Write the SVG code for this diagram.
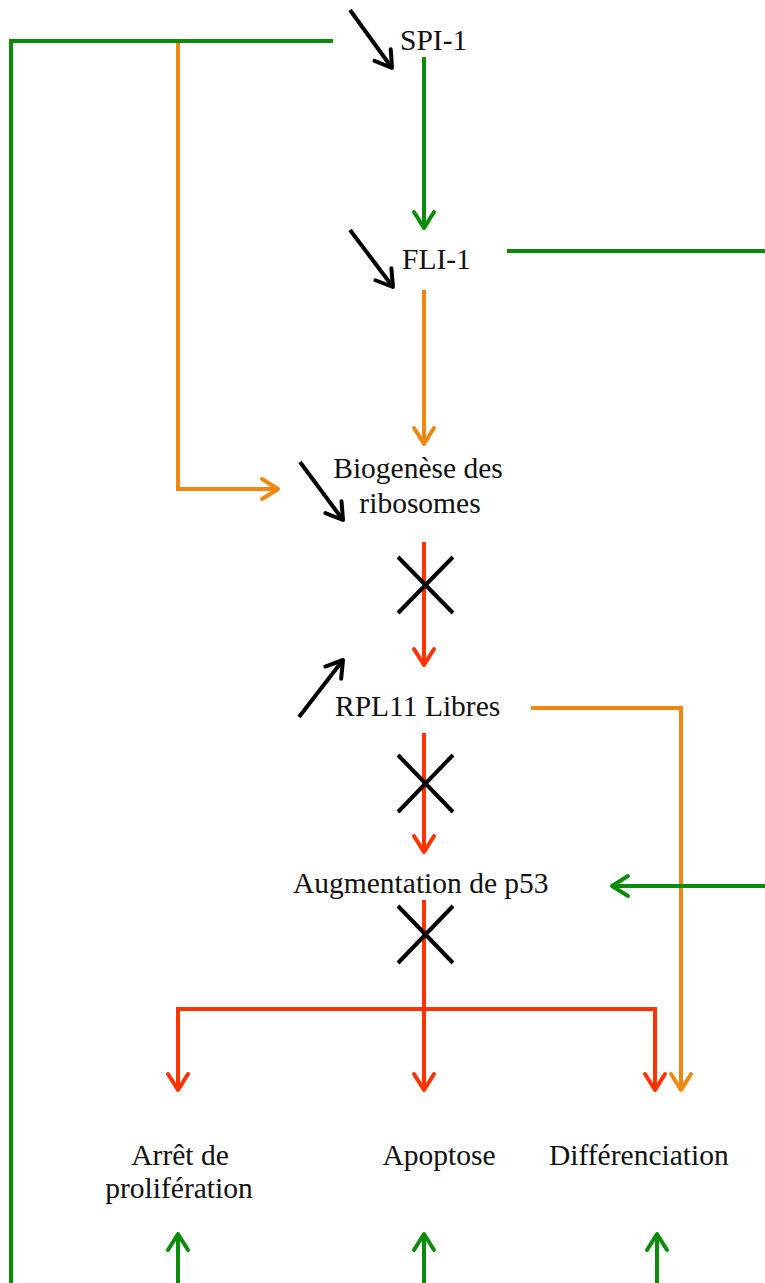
<svg xmlns="http://www.w3.org/2000/svg" width="765" height="1283" viewBox="0 0 765 1283">
<style>
.t{font-family:"Liberation Serif","Times New Roman",serif;font-size:29.5px;fill:#111}
.c{fill:none;stroke-width:4;stroke-linejoin:miter}
.g{stroke:#0a8c0a}.o{stroke:#ee8811}.r{stroke:#ff3300}.k{stroke:#000}
</style>
<defs>
<marker id="ag" viewBox="-20 -14 26 28" markerWidth="26" markerHeight="28" refX="0" refY="0" orient="auto" markerUnits="userSpaceOnUse" overflow="visible"><path d="M-16,-10 L0,0 L-16,10" fill="none" stroke="#0a8c0a" stroke-width="4" stroke-linecap="round" stroke-linejoin="round"/></marker>
<marker id="ao" viewBox="-20 -14 26 28" markerWidth="26" markerHeight="28" refX="0" refY="0" orient="auto" markerUnits="userSpaceOnUse" overflow="visible"><path d="M-16,-10 L0,0 L-16,10" fill="none" stroke="#ee8811" stroke-width="4" stroke-linecap="round" stroke-linejoin="round"/></marker>
<marker id="ar" viewBox="-20 -14 26 28" markerWidth="26" markerHeight="28" refX="0" refY="0" orient="auto" markerUnits="userSpaceOnUse" overflow="visible"><path d="M-16,-10 L0,0 L-16,10" fill="none" stroke="#ff3300" stroke-width="4" stroke-linecap="round" stroke-linejoin="round"/></marker>
<marker id="ak" viewBox="-20 -14 26 28" markerWidth="26" markerHeight="28" refX="0" refY="0" orient="auto" markerUnits="userSpaceOnUse" overflow="visible"><path d="M-16,-10 L0,0 L-16,10" fill="none" stroke="#000" stroke-width="4" stroke-linecap="round" stroke-linejoin="round"/></marker>
</defs>
<g id="connectors">
<path class="c o" d="M178,43 V489 H278" marker-end="url(#ao)"/>
<path class="c g" d="M333,41 H11 V1283"/>
<path class="c g" d="M424,57 V228" marker-end="url(#ag)"/>
<path class="c g" d="M507,251 H765"/>
<path class="c o" d="M424,290 V444" marker-end="url(#ao)"/>
<path class="c r" d="M424,542 V665" marker-end="url(#ar)"/>
<path class="c r" d="M424,733 V852" marker-end="url(#ar)"/>
<path class="c r" d="M424,900 V1090" marker-end="url(#ar)"/>
<path class="c r" d="M424,1009 H178 V1090" marker-end="url(#ar)"/>
<path class="c r" d="M424,1009 H655 V1090" marker-end="url(#ar)"/>
<path class="c o" d="M531,708 H681 V1090" marker-end="url(#ao)"/>
<path class="c g" d="M765,886 H612" marker-end="url(#ag)"/>
<path class="c g" d="M178,1283 V1234" marker-end="url(#ag)"/>
<path class="c g" d="M424,1283 V1234" marker-end="url(#ag)"/>
<path class="c g" d="M657,1283 V1234" marker-end="url(#ag)"/>
<path class="c k" d="M350,10 L392,68" marker-end="url(#ak)"/>
<path class="c k" d="M350,230 L393,287" marker-end="url(#ak)"/>
<path class="c k" d="M300,462 L343,520" marker-end="url(#ak)"/>
<path class="c k" d="M299,717 L343,660" marker-end="url(#ak)"/>
<path class="c k" d="M398,557 L453,613 M453,557 L398,613"/>
<path class="c k" d="M398,755 L453,812 M453,755 L398,812"/>
<path class="c k" d="M398,906 L453,963 M453,906 L398,963"/>
</g>
<g id="spi1"><text class="t" x="400" y="50">SPI-1</text></g>
<g id="fli1"><text class="t" x="402" y="269">FLI-1</text></g>
<g id="biogenese"><text class="t" x="418" y="478" text-anchor="middle">Biogenèse des</text><text class="t" x="420" y="513" text-anchor="middle">ribosomes</text></g>
<g id="rpl11"><text class="t" x="335" y="716">RPL11 Libres</text></g>
<g id="p53"><text class="t" x="293" y="893">Augmentation de p53</text></g>
<g id="arret"><text class="t" x="180" y="1165" text-anchor="middle">Arrêt de</text><text class="t" x="179" y="1198" text-anchor="middle">prolifération</text></g>
<g id="apoptose"><text class="t" x="439" y="1165" text-anchor="middle">Apoptose</text></g>
<g id="diff"><text class="t" x="549" y="1165">Différenciation</text></g>
</svg>
